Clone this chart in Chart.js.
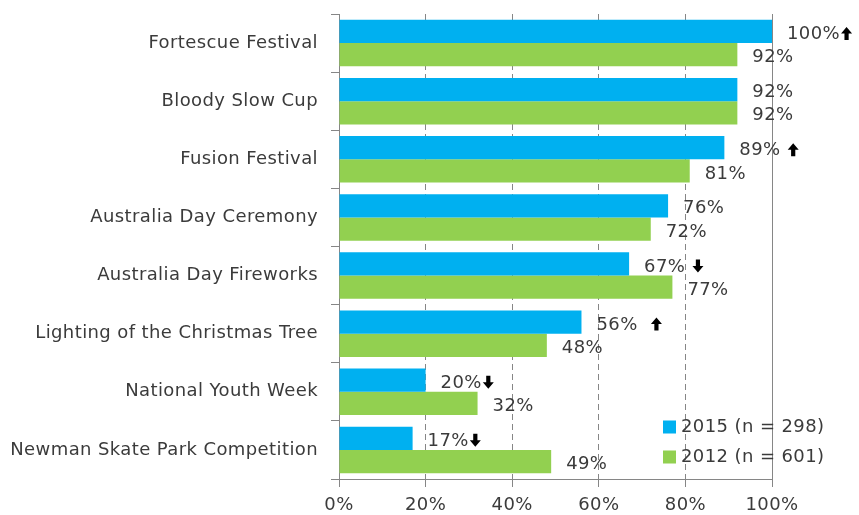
<!DOCTYPE html>
<html>
<head>
<meta charset="utf-8">
<script src="https://cdn.jsdelivr.net/npm/chart.js@4"></script>
<style>
  html, body { margin: 0; padding: 0; background: #ffffff; }
  canvas { display: block; }
</style>
</head>
<body>
<canvas id="chart" width="859" height="515"></canvas>
<script>
// Event attendance / awareness, 2015 survey against 2012 survey
const events = [
  'Fortescue Festival',
  'Bloody Slow Cup',
  'Fusion Festival',
  'Australia Day Ceremony',
  'Australia Day Fireworks',
  'Lighting of the Christmas Tree',
  'National Youth Week',
  'Newman Skate Park Competition'
];
const share2015 = [100, 92, 89, 76, 67, 56, 20, 17];
const share2012 = [92, 92, 81, 72, 77, 48, 32, 49];
// significance markers shown after the 2015 values (leading spaces separate them from the value)
const trend2015 = ['\u2191', '', ' \u2191', '', ' \u2193', '  \u2191', '\u2193', '\u2193'];
const seriesNames = ['2015 (n = 298)', '2012 (n = 601)'];
const xTickValues = [0, 20, 40, 60, 80, 100];

const BLUE = '#00B0F0';
const GREEN = '#92D050';
const AXIS = '#868686';
const TEXT = '#3b3b3b';
const FONT = '"DejaVu Sans", Verdana, sans-serif';

// slightly open tracking for all text on the canvas
const tracking = {
  id: 'tracking',
  beforeDraw(chart) { chart.ctx.letterSpacing = '0.4px'; }
};

// solid frame line on the 100% edge of the plot
const rightFrame = {
  id: 'rightFrame',
  beforeDatasetsDraw(chart) {
    const { ctx, chartArea, scales } = chart;
    const x = Math.round(scales.x.getPixelForValue(100)) + 0.5;
    ctx.save();
    ctx.strokeStyle = AXIS;
    ctx.lineWidth = 1;
    ctx.beginPath();
    ctx.moveTo(x, chartArea.top);
    ctx.lineTo(x, chartArea.bottom);
    ctx.stroke();
    ctx.restore();
  }
};

// heavy arrow: triangular head on a thick shaft
function drawArrow(ctx, left, cy, up) {
  const w = 11, h = 13, head = 6.5, shaft = 4.2;
  const cx = left + w / 2;
  const top = cy - h / 2, bottom = cy + h / 2;
  ctx.beginPath();
  if (up) {
    ctx.moveTo(cx, top);
    ctx.lineTo(cx + w / 2, top + head);
    ctx.lineTo(cx + shaft / 2, top + head);
    ctx.lineTo(cx + shaft / 2, bottom);
    ctx.lineTo(cx - shaft / 2, bottom);
    ctx.lineTo(cx - shaft / 2, top + head);
    ctx.lineTo(cx - w / 2, top + head);
  } else {
    ctx.moveTo(cx, bottom);
    ctx.lineTo(cx + w / 2, bottom - head);
    ctx.lineTo(cx + shaft / 2, bottom - head);
    ctx.lineTo(cx + shaft / 2, top);
    ctx.lineTo(cx - shaft / 2, top);
    ctx.lineTo(cx - shaft / 2, bottom - head);
    ctx.lineTo(cx - w / 2, bottom - head);
  }
  ctx.closePath();
  ctx.fill();
}

// value labels to the right of each bar, with trend arrows for 2015
const valueLabels = {
  id: 'valueLabels',
  afterDatasetsDraw(chart) {
    const { ctx } = chart;
    ctx.save();
    ctx.textBaseline = 'middle';
    ctx.textAlign = 'left';
    ctx.font = '18px ' + FONT;
    chart.data.datasets.forEach((ds, d) => {
      const meta = chart.getDatasetMeta(d);
      meta.data.forEach((bar, i) => {
        const txt = ds.data[i] + '%';
        const x = bar.x + 15;
        const y = bar.y + 3;
        ctx.fillStyle = TEXT;
        ctx.fillText(txt, x, y);
        const mark = d === 0 ? trend2015[i] : '';
        if (mark) {
          const gap = mark.slice(0, -1);
          const left = x + ctx.measureText(txt + gap).width + 1;
          ctx.fillStyle = '#000000';
          drawArrow(ctx, left, y - 1, mark.slice(-1) === '\u2191');
        }
      });
    });
    ctx.restore();
  }
};

// legend drawn inside the lower right corner of the plot
const cornerLegend = {
  id: 'cornerLegend',
  afterDraw(chart) {
    const { ctx, chartArea } = chart;
    const x0 = chartArea.right - 109;
    const rows = [chartArea.bottom - 52, chartArea.bottom - 22];
    ctx.save();
    ctx.font = '18px ' + FONT;
    ctx.textBaseline = 'middle';
    ctx.textAlign = 'left';
    chart.data.datasets.forEach((ds, d) => {
      const yc = rows[d];
      ctx.fillStyle = ds.backgroundColor;
      ctx.fillRect(x0, yc - 6.5, 13, 13);
      ctx.fillStyle = TEXT;
      ctx.fillText(ds.label, x0 + 18, yc);
    });
    ctx.restore();
  }
};

new Chart(document.getElementById('chart'), {
  type: 'bar',
  data: {
    labels: events,
    datasets: [
      { label: seriesNames[0], data: share2015, backgroundColor: BLUE },
      { label: seriesNames[1], data: share2012, backgroundColor: GREEN }
    ]
  },
  options: {
    indexAxis: 'y',
    responsive: false,
    animation: false,
    events: [],
    layout: { padding: { top: 14, right: 87, bottom: 0, left: 0 } },
    datasets: {
      bar: { categoryPercentage: 0.8, barPercentage: 1.0 }
    },
    plugins: {
      legend: { display: false },
      tooltip: { enabled: false }
    },
    scales: {
      x: {
        min: 0,
        max: 100,
        afterBuildTicks(scale) {
          scale.ticks = xTickValues.map(v => ({ value: v }));
        },
        afterFit(scale) { scale.height = 36; },
        ticks: {
          callback: v => v + '%',
          color: TEXT,
          font: { family: FONT, size: 18 },
          padding: 8,
          maxRotation: 0
        },
        grid: {
          color: c => (c.tick && (c.tick.value === 0 || c.tick.value === 100)) ? 'rgba(0,0,0,0)' : AXIS,
          tickColor: AXIS,
          tickLength: 8,
          lineWidth: 1
        },
        border: { display: true, color: AXIS, width: 1, dash: [6, 4] }
      },
      y: {
        afterFit(scale) {
          scale.width = 339;
          scale.paddingTop = 0;
          scale.paddingBottom = 0;
        },
        ticks: {
          color: TEXT,
          font: { family: FONT, size: 18 },
          padding: 13
        },
        grid: {
          drawOnChartArea: false,
          drawTicks: true,
          tickLength: 8,
          tickColor: AXIS,
          color: AXIS
        },
        border: { display: true, color: AXIS, width: 1 }
      }
    }
  },
  plugins: [tracking, rightFrame, valueLabels, cornerLegend]
});
</script>
</body>
</html>
